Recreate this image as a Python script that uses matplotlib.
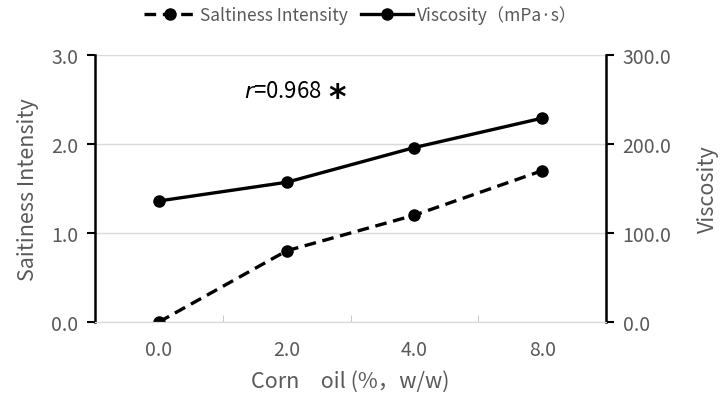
import matplotlib.pyplot as plt
from matplotlib.lines import Line2D

plt.rcParams['font.family'] = ['Noto Sans CJK JP', 'DejaVu Sans']

categories = ['0.0', '2.0', '4.0', '8.0']
saltiness = [0.0, 0.8, 1.2, 1.7]
viscosity = [136, 157, 196, 229]

grey = '#595959'
x = list(range(len(categories)))

fig = plt.figure(figsize=(7.21, 4.06), dpi=100)
ax = fig.add_axes([95 / 721, 1 - 323 / 406, 511 / 721, 267 / 406])
ax2 = ax.twinx()

ax.plot(x, saltiness, color='black', lw=2.4, ls=(0, (3.5, 2)), marker='o', ms=8,
        label='Saltiness Intensity')
ax2.plot(x, viscosity, color='black', lw=2.4, marker='o', ms=8,
         label='Viscosity（mPa·s）')

ax.set_xlim(-0.5, 3.5)
ax.set_ylim(0, 3.0)
ax2.set_ylim(0, 300)
ax.set_yticks([0, 1, 2, 3])
ax.set_yticklabels(['0.0', '1.0', '2.0', '3.0'])
ax2.set_yticks([0, 100, 200, 300])
ax2.set_yticklabels(['0.0', '100.0', '200.0', '300.0'])
ax.set_xticks(x)
ax.set_xticklabels(categories)
ax.set_xticks([0.5, 1.5, 2.5], minor=True)
ax.tick_params(axis='x', which='major', length=0, pad=12, labelsize=14, labelcolor=grey)
ax.tick_params(axis='x', which='minor', direction='in', length=5, color='#bfbfbf')
ax.tick_params(axis='y', length=6, width=1.5, color='black', labelsize=14,
               labelcolor=grey, pad=6)
ax2.tick_params(axis='y', length=6, width=1.5, color='black', labelsize=14,
                labelcolor=grey, pad=6)

ax.yaxis.grid(True, color='#d9d9d9', lw=1)
ax.set_axisbelow(True)

for a in (ax, ax2):
    a.spines['top'].set_visible(False)
    a.spines['bottom'].set_color('#d9d9d9')
ax.spines['right'].set_visible(False)
ax.spines['left'].set_linewidth(1.8)
ax2.spines['left'].set_visible(False)
ax2.spines['right'].set_linewidth(1.8)

ax.set_ylabel('Saitiness Intensity', fontsize=15.5, color=grey, labelpad=9)
ax2.set_ylabel('Viscosity', fontsize=15.5, color=grey, labelpad=18)
ax.set_xlabel('Corn　oil (%，w/w)', fontsize=15.5, color=grey, labelpad=7)

ax.text(0.67, 2.6, r'$r$=0.968', fontsize=16, color='black', ha='left', va='center')
ax.text(1.33, 2.52, '*', fontsize=24, color='black', ha='left', va='center',
        fontweight='bold', family='DejaVu Sans')

handles = [
    Line2D([], [], color='black', lw=2.4, ls=(0, (3.5, 2)), marker='o', ms=8),
    Line2D([], [], color='black', lw=2.4, marker='o', ms=8),
]
fig.legend(handles, ['Saltiness Intensity', 'Viscosity（mPa·s）'], loc='center',
           bbox_to_anchor=(0.5, 1 - 16 / 406), ncol=2, frameon=False, fontsize=12.5,
           handlelength=3, columnspacing=0.8, handletextpad=0.2, labelcolor=grey)

fig.savefig('out.png', dpi=100)
